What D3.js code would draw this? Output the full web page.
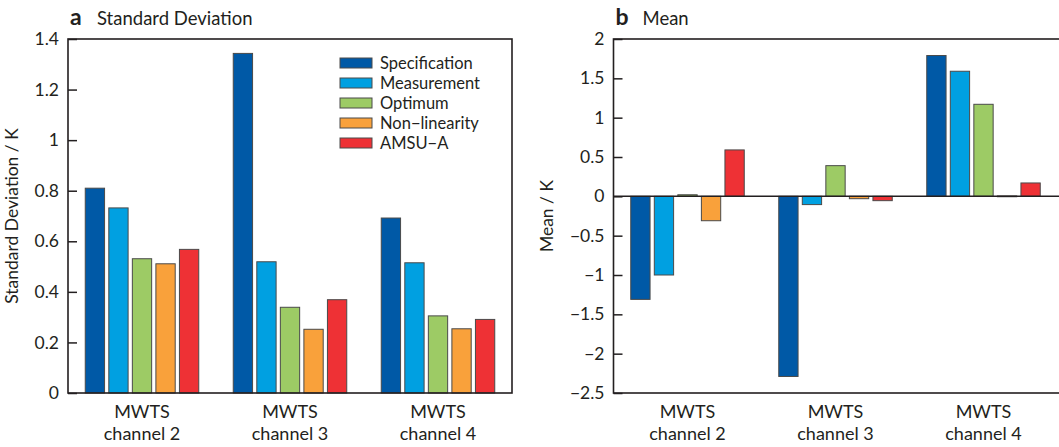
<!DOCTYPE html>
<html>
<head>
<meta charset="utf-8">
<script src="https://cdn.jsdelivr.net/npm/d3@7"></script>
<style>
  body { margin: 0; background: #fff; }
  text { font-family: Lato, "Open Sans", sans-serif; fill: #231f20; }
</style>
</head>
<body>
<div id="chart"></div>
<script>
// Data
const channels = ["channel 2", "channel 3", "channel 4"];
const seriesNames = ["Specification", "Measurement", "Optimum", "Non\u2212linearity", "AMSU\u2212A"];
const seriesColors = ["#0059a6", "#00a0e1", "#9dcb65", "#f9a13b", "#ee3135"];

const stdSpec = [0.81, 1.343, 0.692];
const stdMeas = [0.732, 0.519, 0.515];
const stdOpt = [0.531, 0.339, 0.305];
const stdNonlin = [0.511, 0.252, 0.254];
const stdAmsu = [0.568, 0.369, 0.291];

const meanSpec = [-1.31, -2.29, 1.79];
const meanMeas = [-1.0, -0.105, 1.59];
const meanOpt = [0.02, 0.39, 1.17];
const meanNonlin = [-0.31, -0.03, 0.005];
const meanAmsu = [0.59, -0.055, 0.17];

const stdTicks = [0, 0.2, 0.4, 0.6, 0.8, 1, 1.2, 1.4];
const meanTicks = [-2.5, -2, -1.5, -1, -0.5, 0, 0.5, 1, 1.5, 2];

const width = 1059, height = 447;

const svg = d3.select("#chart").append("svg")
    .attr("width", width)
    .attr("height", height);

function fmt(v) {
    return String(v).replace("-", "\u2212");
}

function drawPanel(opts) {
    const { left, plotW, frameW, top, bottom, domain, ticks, values, letter, title, yLabel, yLabelX, legend } = opts;

    const x = d3.scaleBand().domain(channels).range([left, left + plotW]);
    const inner = d3.scaleBand().domain(seriesNames).range([0, 113.5]).paddingInner(0.18).paddingOuter(0);
    const y = d3.scaleLinear().domain(domain).range([bottom, top]);

    const g = svg.append("g");

    // bars
    seriesNames.forEach((s, si) => {
        g.selectAll(null)
            .data(values[si].map((v, i) => ({ c: channels[i], v: v })))
            .enter().append("rect")
            .attr("x", d => x(d.c) + x.bandwidth() / 2 - 113.5 / 2 + inner(s))
            .attr("width", inner.bandwidth())
            .attr("y", d => y(Math.max(0, d.v)))
            .attr("height", d => Math.max(0.8, Math.abs(y(d.v) - y(0))))
            .style("fill", seriesColors[si])
            .style("stroke", "#4a4a4a")
            .style("stroke-width", 1);
    });

    // zero line
    if (domain[0] < 0) {
        g.append("line")
            .attr("x1", left).attr("x2", left + frameW)
            .attr("y1", y(0)).attr("y2", y(0))
            .style("stroke", "#231f20").style("stroke-width", 1.5);
    }

    // frame
    g.append("rect")
        .attr("x", left).attr("y", top)
        .attr("width", frameW).attr("height", bottom - top)
        .style("fill", "none")
        .style("stroke", "#231f20")
        .style("stroke-width", 1.6);

    // y axis: inward ticks
    const axis = d3.axisLeft(y).tickValues(ticks).tickSize(-9).tickPadding(16).tickFormat(fmt);
    const ag = g.append("g").attr("transform", `translate(${left},0)`).call(axis);
    ag.select(".domain").remove();
    ag.selectAll(".tick line").style("stroke", "#231f20").style("stroke-width", 1.5);
    ag.selectAll(".tick text")
        .attr("x", -9)
        .style("font-size", "17.5px")
        .style("font-family", "Lato, sans-serif")
        .style("fill", "#231f20");

    // x labels
    channels.forEach(c => {
        const t = g.append("text")
            .attr("x", x(c) + x.bandwidth() / 2)
            .attr("y", 418)
            .attr("text-anchor", "middle")
            .style("font-size", "18px");
        t.append("tspan").attr("x", x(c) + x.bandwidth() / 2).text("MWTS");
        t.append("tspan").attr("x", x(c) + x.bandwidth() / 2).attr("dy", 22).text(c);
    });

    // y label
    g.append("text")
        .attr("transform", `translate(${yLabelX},${(top + bottom) / 2}) rotate(-90)`)
        .attr("text-anchor", "middle")
        .style("font-size", "17.5px")
        .text(yLabel);

    // title
    g.append("text")
        .attr("x", left + 2).attr("y", 25)
        .style("font-size", "23px")
        .style("font-weight", "bold")
        .text(letter);
    g.append("text")
        .attr("x", left + 29).attr("y", 25)
        .style("font-size", "18.5px")
        .text(title);

    if (legend) {
        const lg = g.append("g").attr("transform", "translate(340,58)");
        seriesNames.forEach((s, i) => {
            lg.append("rect")
                .attr("x", 0).attr("y", i * 20)
                .attr("width", 32).attr("height", 10)
                .style("fill", seriesColors[i])
                .style("stroke", "#4a4a4a")
                .style("stroke-width", 1);
            lg.append("text")
                .attr("x", 40).attr("y", i * 20 + 5)
                .attr("dy", "0.36em")
                .style("font-size", "16.5px")
                .text(s);
        });
    }
}

drawPanel({
    left: 68, plotW: 444, frameW: 444, top: 39, bottom: 393,
    domain: [0, 1.4], ticks: stdTicks,
    values: [stdSpec, stdMeas, stdOpt, stdNonlin, stdAmsu],
    letter: "a", title: "Standard Deviation",
    yLabel: "Standard Deviation / K", yLabelX: 18, legend: true
});

drawPanel({
    left: 613.5, plotW: 444, frameW: 450, top: 39, bottom: 393,
    domain: [-2.5, 2], ticks: meanTicks,
    values: [meanSpec, meanMeas, meanOpt, meanNonlin, meanAmsu],
    letter: "b", title: "Mean",
    yLabel: "Mean / K", yLabelX: 553, legend: false
});
</script>
</body>
</html>
